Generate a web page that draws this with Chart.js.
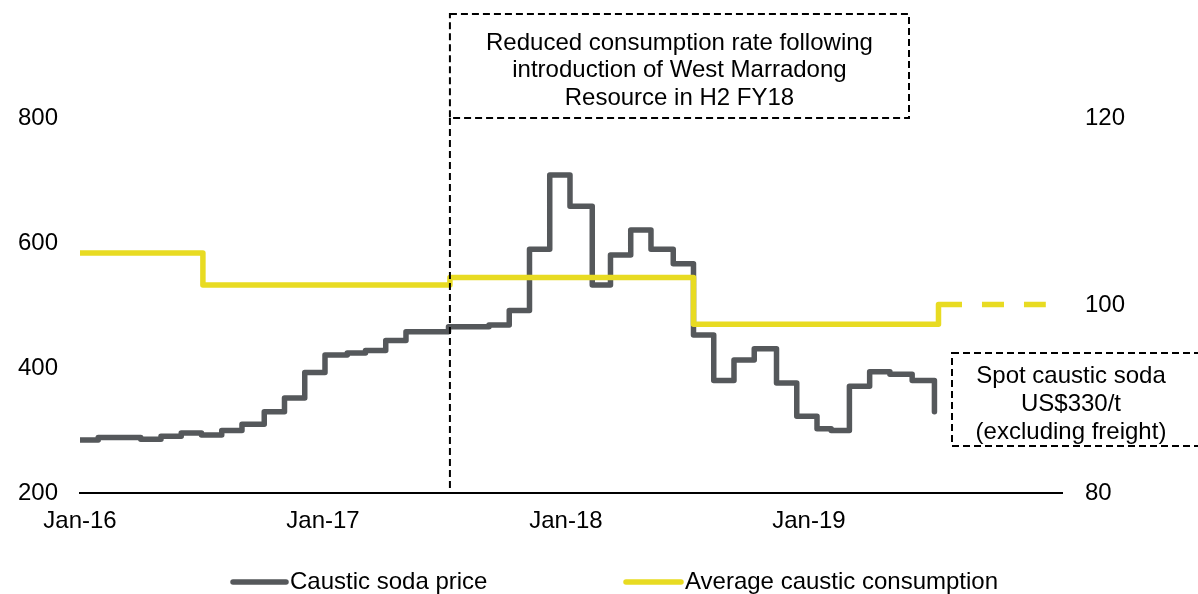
<!DOCTYPE html>
<html>
<head>
<meta charset="utf-8">
<script src="https://cdn.jsdelivr.net/npm/chart.js@4/dist/chart.umd.min.js"></script>
<style>
  html, body { margin: 0; padding: 0; background: #fff; }
  #wrap { width: 1198px; height: 594px; }
</style>
</head>
<body>
<div id="wrap"><canvas id="chart" width="1198" height="594"></canvas></div>
<script>
// Months counted from Jan-16 (0 = Jan-16)
const xTickMonths = [0, 12, 24, 36];
const xTickLabels = ['Jan-16', 'Jan-17', 'Jan-18', 'Jan-19'];

// Caustic soda price (US$/t), each value holds from its month until the next change
const priceMonths = [0, 0.9, 3.0, 4.0, 5.0, 6.0, 7.0, 8.0, 9.1, 10.1, 11.1, 12.1, 13.2, 14.1, 15.1, 16.1,
  18.2, 20.2, 21.2, 22.2, 23.2, 24.2, 25.3, 26.2, 27.2, 28.2, 29.3, 30.3, 31.3, 32.3, 33.3, 34.4,
  35.4, 36.4, 37.1, 38.0, 39.0, 40.0, 41.1, 42.2];
const priceValues = [285, 289, 286, 291, 296, 293, 300, 310, 330, 352, 393, 421, 424, 428, 444, 458,
  466, 469, 492, 590, 709, 659, 533, 581, 621, 590, 567, 453, 380, 413, 431, 376,
  323, 303, 300, 371, 394, 390, 380, 330];

// Average caustic consumption (right axis), actual then forecast
const consumptionMonths = [0, 6.07, 18.27, 30.3, 42.4, 43.56];
const consumptionValues = [105.6, 102.2, 103.0, 98.0, 100.1, 100.1];
const forecastMonths = [43.56, 47.7];
const forecastValues = [100.1, 100.1];

// Start of the West Marradong Resource period
const eventMonth = 18.27;

const seriesNames = ['Caustic soda price', 'Average caustic consumption'];
const noteTop = ['Reduced consumption rate following', 'introduction of West Marradong', 'Resource in H2 FY18'];
const noteSpot = ['Spot caustic soda', 'US$330/t', '(excluding freight)'];

const GREY = '#55585b';
const YELLOW = '#e8db22';
const FONT = "'Liberation Sans', Arial, sans-serif";

// Each value is held until the next change point
const toSteps = (xs, ys) => {
  const pts = [];
  xs.forEach((m, i) => {
    if (i > 0) pts.push({ x: m, y: ys[i - 1] });
    pts.push({ x: m, y: ys[i] });
  });
  return pts;
};
const toPoints = (xs, ys) => xs.map((m, i) => ({ x: m, y: ys[i] }));

Chart.defaults.font.family = FONT;
Chart.defaults.font.size = 24;
Chart.defaults.color = '#000';

const notes = {
  id: 'notes',
  afterDatasetsDraw(chart) {
    const { ctx, chartArea: a, scales: { x } } = chart;
    const ex = x.getPixelForValue(eventMonth);
    ctx.save();
    ctx.strokeStyle = '#000';
    ctx.lineWidth = 2;
    ctx.setLineDash([7, 4]);

    // Event box and marker line
    const boxRight = 909, boxTop = 14;
    ctx.strokeRect(ex, boxTop, boxRight - ex, a.top - boxTop);
    ctx.beginPath();
    ctx.moveTo(ex, a.top);
    ctx.lineTo(ex, a.bottom);
    ctx.stroke();

    // Spot price box (runs past the right edge)
    ctx.strokeRect(952, 353, 320, 93);
    ctx.setLineDash([]);

    ctx.fillStyle = '#000';
    ctx.font = '24px ' + FONT;
    ctx.textAlign = 'center';
    ctx.textBaseline = 'middle';
    const cx = (ex + boxRight) / 2;
    noteTop.forEach((t, i) => ctx.fillText(t, cx, 43 + i * 27.5));
    noteSpot.forEach((t, i) => ctx.fillText(t, 1071, 376 + i * 28));

    // Legend
    const legend = [
      { color: GREY, x0: 231, x1: 288, tx: 290 },
      { color: YELLOW, x0: 624, x1: 683, tx: 685 }
    ];
    ctx.textAlign = 'left';
    ctx.lineWidth = 5.5;
    ctx.lineCap = 'round';
    legend.forEach((l, i) => {
      ctx.strokeStyle = l.color;
      ctx.beginPath();
      ctx.moveTo(l.x0 + 2, 582);
      ctx.lineTo(l.x1 - 2, 582);
      ctx.stroke();
      ctx.fillText(seriesNames[i], l.tx, 582);
    });
    ctx.restore();
  }
};

new Chart(document.getElementById('chart'), {
  type: 'line',
  data: {
    datasets: [
      {
        label: seriesNames[1],
        data: toSteps(consumptionMonths, consumptionValues),
        yAxisID: 'y1',
        borderColor: YELLOW,
        borderWidth: 5.5,
        pointRadius: 0,
        borderJoinStyle: 'round',
        order: 0
      },
      {
        label: seriesNames[1] + ' forecast',
        data: toPoints(forecastMonths, forecastValues),
        yAxisID: 'y1',
        borderColor: YELLOW,
        borderWidth: 5.5,
        borderDash: [22, 20],
        borderDashOffset: 22,
        pointRadius: 0,
        order: 0
      },
      {
        label: seriesNames[0],
        data: toSteps(priceMonths, priceValues),
        yAxisID: 'y',
        borderColor: GREY,
        borderWidth: 5.5,
        pointRadius: 0,
        borderJoinStyle: 'round',
        borderCapStyle: 'round',
        order: 1
      }
    ]
  },
  options: {
    responsive: false,
    animation: false,
    devicePixelRatio: 1,
    layout: { padding: { top: 118, left: 0, right: 0, bottom: 0 } },
    plugins: { legend: { display: false }, tooltip: { enabled: false } },
    scales: {
      x: {
        type: 'linear',
        min: 0,
        max: 48.5,
        grid: { display: false, drawTicks: false },
        border: { display: true, color: '#000', width: 2 },
        afterBuildTicks: s => { s.ticks = xTickMonths.map(v => ({ value: v })); },
        ticks: {
          autoSkip: false,
          maxRotation: 0,
          padding: 14,
          callback: v => xTickLabels[xTickMonths.indexOf(v)]
        },
        afterFit: s => { s.height = 101; }
      },
      y: {
        position: 'left',
        min: 200,
        max: 800,
        grid: { display: false, drawTicks: false },
        border: { display: false },
        ticks: { stepSize: 200, padding: 22 },
        afterFit: s => { s.width = 80; }
      },
      y1: {
        position: 'right',
        min: 80,
        max: 120,
        grid: { display: false, drawTicks: false },
        border: { display: false },
        ticks: { stepSize: 20, padding: 23 },
        afterFit: s => { s.width = 136; }
      }
    }
  },
  plugins: [notes]
});
</script>
</body>
</html>
